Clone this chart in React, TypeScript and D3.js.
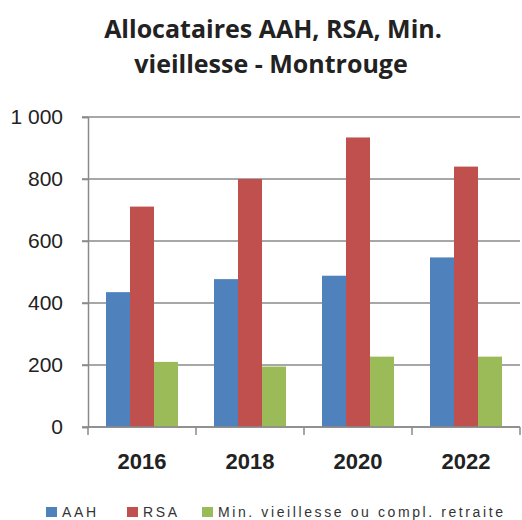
import { useEffect, useRef } from 'react'
import * as d3 from 'd3'

const years = ['2016', '2018', '2020', '2022']
const seriesNames = ['AAH', 'RSA', 'Min. vieillesse ou compl. retraite']
const aah = [435, 477, 488, 547]
const rsa = [711, 800, 934, 840]
const minVieillesse = [210, 195, 227, 227]
const colors = ['#4F81BD', '#C0504D', '#9BBB59']
const yTicks = [0, 200, 400, 600, 800, 1000]

export default function App() {
    const svgRef = useRef<SVGSVGElement>(null)

    useEffect(() => {
        if (!svgRef.current) return
        const svg = d3.select(svgRef.current)
        svg.selectAll('*').remove()

        const width = 522
        const height = 520
        const margin = { top: 117, right: 2, bottom: 93, left: 88 }
        const values = [aah, rsa, minVieillesse]

        const x = d3.scaleBand()
            .domain(years)
            .range([margin.left, width - margin.right])
            .paddingInner(1 / 3)
            .paddingOuter(1 / 6)
        const sub = d3.scaleBand()
            .domain(seriesNames)
            .range([0, x.bandwidth()])
        const y = d3.scaleLinear()
            .domain([0, 1000])
            .range([height - margin.bottom, margin.top])

        // title
        const title = svg.append('text')
            .attr('text-anchor', 'middle')
            .attr('font-family', 'Open Sans, sans-serif')
            .attr('font-weight', 'bold')
            .attr('font-size', '25px')
            .attr('fill', '#222')
        title.append('tspan').attr('x', 273).attr('y', 38).text('Allocataires AAH, RSA, Min.')
        title.append('tspan').attr('x', 271).attr('y', 73).text('vieillesse - Montrouge')

        // grid
        svg.append('g')
            .selectAll('line')
            .data(yTicks)
            .enter()
            .append('line')
            .attr('x1', margin.left - 6)
            .attr('x2', width - margin.right)
            .attr('y1', d => y(d))
            .attr('y2', d => y(d))
            .attr('stroke', '#8a8a8a')
            .attr('stroke-width', 1.5)

        // bars
        values.forEach((vals, i) => {
            svg.append('g')
                .selectAll('rect')
                .data(vals)
                .enter()
                .append('rect')
                .attr('x', (d, j) => (x(years[j]) || 0) + (sub(seriesNames[i]) || 0))
                .attr('y', d => y(d))
                .attr('width', sub.bandwidth())
                .attr('height', d => y(0) - y(d))
                .attr('fill', colors[i])
        })

        // y axis
        const yAxis = d3.axisLeft(y)
            .tickValues(yTicks)
            .tickSize(6)
            .tickFormat(d => d3.format(',')(d as number).replace(',', ' '))
        const yg = svg.append('g')
            .attr('transform', `translate(${margin.left},0)`)
            .call(yAxis)
        yg.select('.domain').attr('stroke', '#8a8a8a').attr('stroke-width', 1.5)
        yg.selectAll('.tick line').attr('stroke', '#8a8a8a').attr('stroke-width', 1.5)
        yg.selectAll('.tick text')
            .attr('x', -25)
            .attr('font-family', 'Liberation Sans, Arial, sans-serif')
            .attr('font-size', '21px')
            .attr('fill', '#222')

        // x axis (ticks between categories)
        const step = x.step()
        const xg = svg.append('g')
            .attr('transform', `translate(0,${y(0)})`)
        xg.append('line')
            .attr('x1', margin.left)
            .attr('x2', width - margin.right)
            .attr('stroke', '#8a8a8a')
            .attr('stroke-width', 1.5)
        xg.selectAll('.sep')
            .data(d3.range(years.length + 1))
            .enter()
            .append('line')
            .attr('x1', d => margin.left + d * step)
            .attr('x2', d => margin.left + d * step)
            .attr('y1', 0)
            .attr('y2', 8)
            .attr('stroke', '#8a8a8a')
            .attr('stroke-width', 1.5)
        xg.selectAll('.lbl')
            .data(years)
            .enter()
            .append('text')
            .attr('x', d => (x(d) || 0) + x.bandwidth() / 2)
            .attr('y', 42)
            .attr('text-anchor', 'middle')
            .attr('font-family', 'Liberation Sans, Arial, sans-serif')
            .attr('font-weight', 'bold')
            .attr('font-size', '22px')
            .attr('fill', '#222')
            .text(d => d)

        // legend
        const legend = svg.append('g').attr('transform', 'translate(0,517)')
        const legendX = [46, 127, 202]
        seriesNames.forEach((name, i) => {
            legend.append('rect')
                .attr('x', legendX[i])
                .attr('y', -10)
                .attr('width', 11)
                .attr('height', 10)
                .attr('fill', colors[i])
            legend.append('text')
                .attr('x', legendX[i] + 16)
                .attr('y', 0)
                .attr('font-family', 'Liberation Sans, Arial, sans-serif')
                .attr('font-size', '14px')
                .attr('letter-spacing', '2.6px')
                .attr('fill', '#333')
                .text(name)
        })
    }, [])

    return (
        <div style={{ position: 'absolute', left: 0, top: 0 }}>
            <svg ref={svgRef} width={522} height={520} style={{ display: 'block', background: '#fff' }} />
        </div>
    )
}
